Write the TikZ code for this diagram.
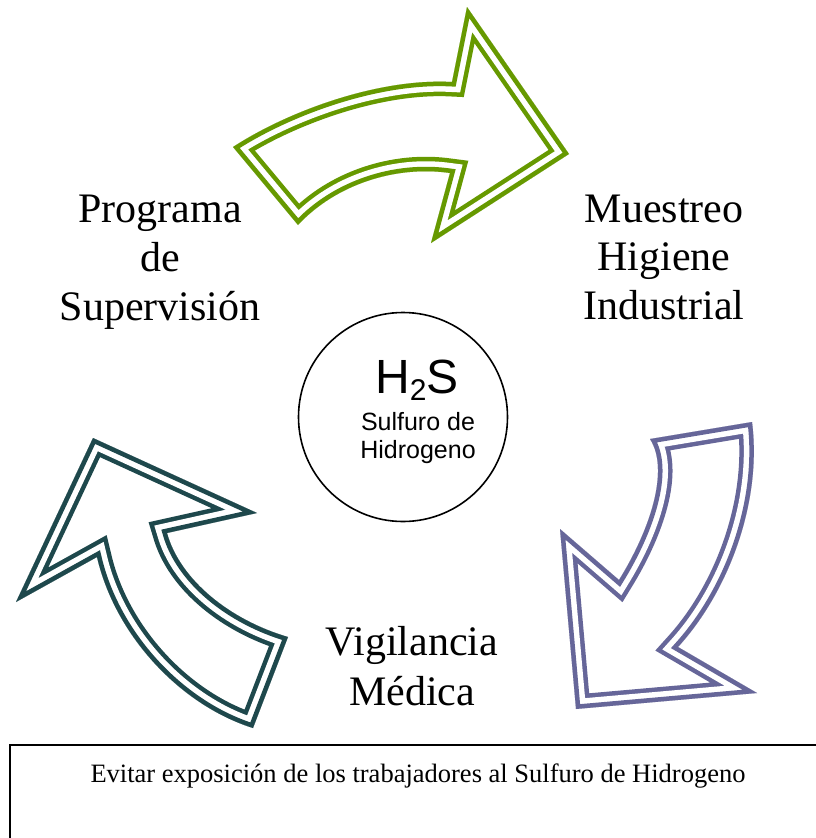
\documentclass[tikz,border=0pt]{standalone}
\usepackage{fontspec}
\setmainfont{Liberation Serif}
\newfontfamily\arialf{Liberation Sans}
\definecolor{agreen}{RGB}{102,153,0}
\definecolor{apurple}{RGB}{102,102,153}
\definecolor{ateal}{RGB}{30,72,76}
\newcommand\arrowtwin[2]{%
  \begin{scope}
    \clip #2;
    \draw[#1, line width=29, line join=miter, miter limit=20] #2;
    \draw[white, line width=20, line join=miter, miter limit=20] #2;
    \draw[#1, line width=9, line join=miter, miter limit=20] #2;
  \end{scope}}
\def\gpath{(233,147) .. controls (290,110) and (380,78) .. (452,82) -- (467,7) -- (569,154) -- (431,243) -- (450,173) .. controls (395,165) and (335,185) .. (298,225) -- cycle}
\def\ppath{(650,439) -- (752,422) .. controls (762,500) and (730,590) .. (678,647) -- (757,693) -- (576,709) -- (560,529) -- (619,580) .. controls (650,530) and (670,470) .. (650,439) -- cycle}
\def\tpath{(93,438) -- (257,513) -- (167,533) .. controls (180,580) and (230,620) .. (288,637) -- (253,728) .. controls (180,705) and (115,635) .. (97,557) -- (16,602) -- cycle}
\begin{document}
\begin{tikzpicture}[x=1pt,y=-1pt,
  lbl/.style={font=\fontsize{42}{49}\selectfont, inner sep=0, anchor=base},
  sns/.style={font=\arialf\fontsize{25}{28}\selectfont, inner sep=0, anchor=base}]
\useasboundingbox (0,0) rectangle (816,838);
\fill[white] (0,0) rectangle (816,838);
% arrows
\arrowtwin{agreen}{\gpath}
\arrowtwin{apurple}{\ppath}
\arrowtwin{ateal}{\tpath}
% labels
\node[lbl] (p1) at (160,222) {Programa};
\node[lbl] (p2) at (160,271) {de};
\node[lbl] (p3) at (160,320) {Supervisión};
\node[lbl] (m1) at (664,222) {Muestreo};
\node[lbl] (m2) at (664,270) {Higiene};
\node[lbl] (m3) at (664,319) {Industrial};
\node[lbl] (v1) at (412,655) {Vigilancia};
\node[lbl] (v2) at (412,705) {Médica};
% centre circle
\node[draw, circle, minimum size=209, line width=1.6, inner sep=0] (c) at (403,417) {};
\node[font=\arialf\fontsize{48}{48}\selectfont, inner sep=0, anchor=base] (h) at (417,393) {H\raisebox{-7pt}{\fontsize{30}{30}\selectfont 2}S};
\node[sns] (s1) at (418,430) {Sulfuro de};
\node[sns] (s2) at (418,458) {Hidrogeno};
% bottom box
\draw[line width=2] (10,745) rectangle (830,860);
\node[font=\fontsize{26.5}{30}\selectfont, inner sep=0, anchor=base] (e) at (418,782) {Evitar exposición de los trabajadores al Sulfuro de Hidrogeno};
\end{tikzpicture}
\end{document}
